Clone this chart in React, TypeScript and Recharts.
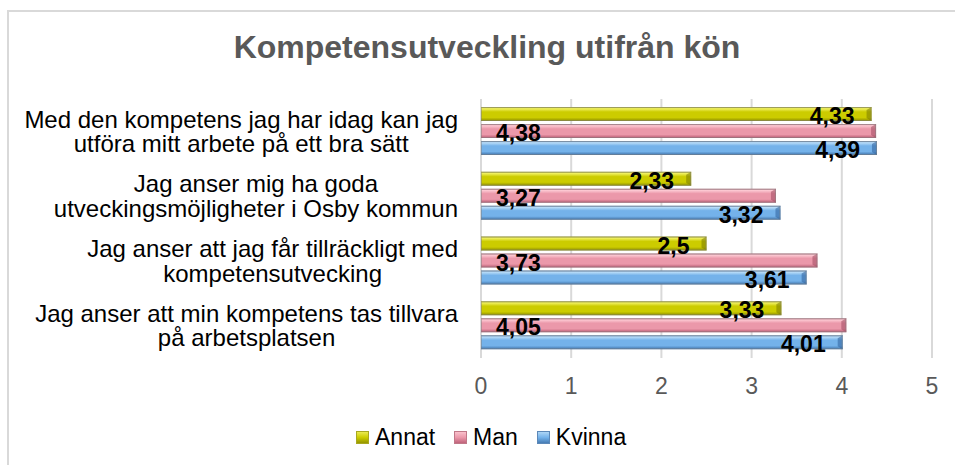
import React from 'react';
import { BarChart, Bar, XAxis, YAxis, CartesianGrid, LabelList, Legend } from 'recharts';

const categories = [
  'Med den kompetens jag har idag kan jag\nutföra mitt arbete på ett bra sätt',
  'Jag anser mig ha goda\nutveckingsmöjligheter i Osby kommun',
  'Jag anser att jag får tillräckligt med\nkompetensutvecking',
  'Jag anser att min kompetens tas tillvara\npå arbetsplatsen',
];
const annat = [4.33, 2.33, 2.5, 3.33];
const man = [4.38, 3.27, 3.73, 4.05];
const kvinna = [4.39, 3.32, 3.61, 4.01];
const xTicks = [0, 1, 2, 3, 4, 5];
const seriesNames = ['Annat', 'Man', 'Kvinna'];
const titleText = 'Kompetensutveckling utifrån kön';

const data = categories.map((name, i) => ({
  name,
  Annat: annat[i],
  Man: man[i],
  Kvinna: kvinna[i],
}));

const FONT = "Arial, 'Liberation Sans', sans-serif";

const palette: Record<string, { top: string; hi: string; mid: string; bot: string; edge: string }> = {
  Annat: { top: '#a8a820', hi: '#f0f060', mid: '#cccc00', bot: '#8c8c00', edge: '#7a7a00' },
  Man: { top: '#c07888', hi: '#fcc8d2', mid: '#eb98aa', bot: '#b85a72', edge: '#a04a60' },
  Kvinna: { top: '#5c88b8', hi: '#b8dcf8', mid: '#74b2ea', bot: '#3e72aa', edge: '#30609a' },
};

let ctx: CanvasRenderingContext2D | null = null;
const measure = (t: string, font: string) => {
  if (!ctx) {
    const c = document.createElement('canvas');
    ctx = c.getContext('2d');
  }
  if (!ctx) return t.length * 11;
  ctx.font = font;
  return ctx.measureText(t).width;
};

const CatTick = (props: any) => {
  const { x, y, payload } = props;
  const lines = String(payload.value).split('\n');
  const fs = 24;
  const w = Math.max(...lines.map((l) => measure(l, `${fs}px 'Liberation Sans', Arial`)));
  const cx = x - w / 2;
  const lh = 24.3;
  return (
    <text textAnchor="middle" fontFamily={FONT} fontSize={fs} fill="#000">
      {lines.map((l, i) => (
        <tspan key={i} x={cx} y={y + (i - (lines.length - 1) / 2) * lh + 8.5}>
          {l}
        </tspan>
      ))}
    </text>
  );
};

const fmt = (v: any) => String(v).replace('.', ',');

const makeLabel = (side: 'left' | 'right') => (p: any) => {
  const { x, y, width, height, value } = p;
  const tx = side === 'right' ? x + width - 17 : x + 15;
  return (
    <text
      x={tx}
      y={y + height / 2 + 10}
      textAnchor={side === 'right' ? 'end' : 'start'}
      fontFamily={FONT}
      fontSize={23}
      fontWeight="bold"
      fill="#000"
    >
      {fmt(value)}
    </text>
  );
};

const BevelBar = (p: any) => {
  const { x, y, width, height, name } = p;
  const key = p.dataKey || name;
  if (!width || width <= 0) return null;
  const pal = palette[key];
  const b = Math.min(5, width / 2);
  return (
    <g>
      <rect x={x} y={y} width={width} height={height} fill={`url(#grad-${key})`} />
      <polygon
        points={`${x + width - b},${y + 3} ${x + width},${y} ${x + width},${y + height} ${x + width - b},${y + height - 3}`}
        fill={pal.edge}
        opacity={0.55}
      />
      <rect x={x + 0.5} y={y + 0.5} width={width - 1} height={height - 1} fill="none" stroke="#808080" strokeOpacity={0.5} strokeWidth={1} />
    </g>
  );
};

const LegendContent = () => (
  <div
    style={{
      display: 'flex',
      alignItems: 'center',
      height: 35,
      marginLeft: 356,
      fontFamily: FONT,
      fontSize: 23,
      color: '#000',
    }}
  >
    {seriesNames.map((n) => (
      <div key={n} style={{ display: 'flex', alignItems: 'center', marginRight: 19 }}>
        <div
          style={{
            width: 13,
            height: 13,
            background: `linear-gradient(to bottom, ${palette[n].hi}, ${palette[n].mid} 50%, ${palette[n].bot})`,
            boxShadow: `inset 0 0 0 1px ${palette[n].top}`,
            marginRight: 6,
          }}
        />
        <span>{n}</span>
      </div>
    ))}
  </div>
);

export default function App() {
  return (
    <div style={{ position: 'absolute', left: 0, top: 0, width: 955, height: 465, background: '#fff', overflow: 'hidden' }}>
      <div
        style={{
          position: 'absolute',
          left: 7,
          top: 10,
          width: 1000,
          height: 500,
          borderLeft: '2px solid #d9d9d9',
          borderTop: '2px solid #d9d9d9',
        }}
      />
      <div
        style={{
          position: 'absolute',
          left: 0,
          top: 31,
          width: 974,
          textAlign: 'center',
          fontFamily: FONT,
          fontSize: 32,
          lineHeight: '32px',
          fontWeight: 'bold',
          color: '#595959',
        }}
      >
        {titleText}
      </div>
      <div style={{ position: 'absolute', left: 0, top: 0 }}>
        <BarChart
          width={955}
          height={465}
          data={data}
          layout="vertical"
          margin={{ top: 99, right: 23, bottom: 10, left: 0 }}
          barSize={14}
          barGap={3}
        >
          <defs>
            {seriesNames.map((n) => (
              <linearGradient key={n} id={`grad-${n}`} x1="0" y1="0" x2="0" y2="1">
                <stop offset="0%" stopColor={palette[n].top} />
                <stop offset="12%" stopColor={palette[n].hi} />
                <stop offset="35%" stopColor={palette[n].mid} />
                <stop offset="75%" stopColor={palette[n].mid} />
                <stop offset="100%" stopColor={palette[n].bot} />
              </linearGradient>
            ))}
          </defs>
          <CartesianGrid horizontal={false} stroke="#d9d9d9" strokeWidth={2} />
          <XAxis
            type="number"
            domain={[0, 5]}
            ticks={xTicks}
            axisLine={false}
            tickLine={false}
            tickSize={6}
            tickMargin={14}
            height={62}
            tick={{ fontSize: 23, fill: '#595959', fontFamily: FONT }}
            interval={0}
          />
          <YAxis
            type="category"
            dataKey="name"
            width={481}
            axisLine={false}
            tickLine={false}
            tickSize={8}
            tickMargin={15}
            interval={0}
            tick={<CatTick />}
          />
          <Legend verticalAlign="bottom" wrapperStyle={{ left: 0, width: 955 }} content={<LegendContent />} />
          <Bar dataKey="Annat" name="Annat" isAnimationActive={false} shape={(p: any) => <BevelBar {...p} dataKey="Annat" />}>
            <LabelList dataKey="Annat" content={makeLabel('right')} />
          </Bar>
          <Bar dataKey="Man" name="Man" isAnimationActive={false} shape={(p: any) => <BevelBar {...p} dataKey="Man" />}>
            <LabelList dataKey="Man" content={makeLabel('left')} />
          </Bar>
          <Bar dataKey="Kvinna" name="Kvinna" isAnimationActive={false} shape={(p: any) => <BevelBar {...p} dataKey="Kvinna" />}>
            <LabelList dataKey="Kvinna" content={makeLabel('right')} />
          </Bar>
        </BarChart>
      </div>
    </div>
  );
}
